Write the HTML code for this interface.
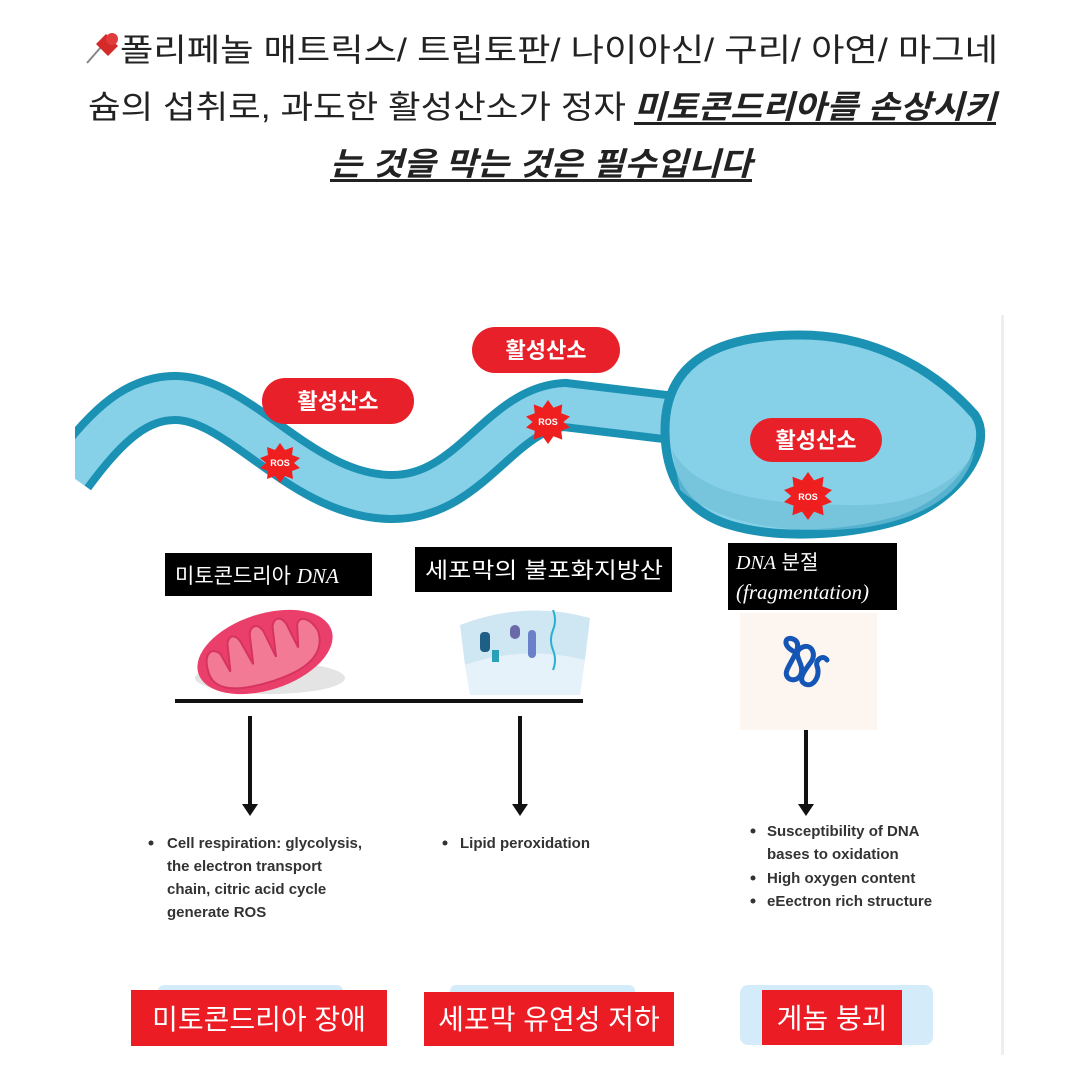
<!DOCTYPE html>
<html><head><meta charset="utf-8"><style>
html,body{margin:0;padding:0;background:#fff;}
svg{display:block;}
.k{font-family:"Liberation Sans","Noto Sans CJK KR",sans-serif;}
</style></head><body>
<svg width="1080" height="1080" viewBox="0 0 1080 1080" xmlns="http://www.w3.org/2000/svg">
<rect width="1080" height="1080" fill="#fff"/>
<!-- title -->
<g class="k" font-size="32" fill="#222">
  <text x="120" y="61" textLength="878" lengthAdjust="spacingAndGlyphs">폴리페놀 매트릭스/ 트립토판/ 나이아신/ 구리/ 아연/ 마그네</text>
  <text x="88" y="118" textLength="538" lengthAdjust="spacingAndGlyphs">슘의 섭취로, 과도한 활성산소가 정자</text>
  <text x="634" y="118" textLength="362" lengthAdjust="spacingAndGlyphs" font-weight="bold" font-style="italic">미토콘드리아를 손상시키</text>
  <text x="330" y="175" textLength="422" lengthAdjust="spacingAndGlyphs" font-weight="bold" font-style="italic">는 것을 막는 것은 필수입니다</text>
</g>
<rect x="634" y="122" width="362" height="3" fill="#222"/>
<rect x="330" y="179" width="422" height="3" fill="#222"/>
<!-- pin -->
<g transform="translate(84,30)">
  <line x1="3" y1="33" x2="17" y2="17" stroke="#888" stroke-width="2"/>
  <path d="M12,14 L22,4 L34,16 L24,26 Z" fill="#d42a2a"/>
  <circle cx="28" cy="9" r="6" fill="#e23b3b"/>
</g>
<!-- picture border -->
<rect x="1001" y="315" width="3" height="740" fill="#eee"/>
<!-- tail -->
<path d="M70,475 C110,420 140,398 175,398 C240,398 300,495 390,497 C470,499 500,408 565,405 L690,420" fill="none" stroke="#1b92b4" stroke-width="52"/>
<path d="M70,475 C110,420 140,398 175,398 C240,398 300,495 390,497 C470,499 500,408 565,405 L690,420" fill="none" stroke="#86d1e8" stroke-width="36"/>
<rect x="0" y="300" width="75" height="260" fill="#fff"/>
<!-- head -->
<path d="M665,430 C665,360 720,335 800,335 C880,335 940,375 975,415 C995,445 960,500 900,520 C850,535 780,540 730,525 C680,510 665,470 665,430 Z" fill="#86d1e8" stroke="#1b92b4" stroke-width="9"/>
<path d="M672,450 C700,500 780,505 860,505 C920,505 960,480 975,450 C965,495 920,520 860,528 C790,535 720,525 680,490 Z" fill="#6fc0d8" opacity="0.7"/>
<!-- labels -->
<g class="k" font-size="22" font-weight="bold" fill="#fff" text-anchor="middle">
  <rect x="262" y="378" width="152" height="46" rx="23" fill="#e8202a"/>
  <text x="338" y="409">활성산소</text>
  <rect x="472" y="327" width="148" height="46" rx="23" fill="#e8202a"/>
  <text x="546" y="358">활성산소</text>
  <rect x="750" y="418" width="132" height="44" rx="22" fill="#e8202a"/>
  <text x="816" y="448">활성산소</text>
</g>
<!-- ROS bursts -->
<g class="k" font-size="9" font-weight="bold" fill="#fff" text-anchor="middle">
  <polygon transform="translate(280,463)" fill="#f01f1f" points="0,-20 5,-13 13,-16 12,-8 20,-5 14,0 20,5 12,8 13,16 5,13 0,20 -5,13 -13,16 -12,8 -20,5 -14,0 -20,-5 -12,-8 -13,-16 -5,-13"/>
  <text x="280" y="466">ROS</text>
  <polygon transform="translate(548,422) scale(1.1)" fill="#f01f1f" points="0,-20 5,-13 13,-16 12,-8 20,-5 14,0 20,5 12,8 13,16 5,13 0,20 -5,13 -13,16 -12,8 -20,5 -14,0 -20,-5 -12,-8 -13,-16 -5,-13"/>
  <text x="548" y="425">ROS</text>
  <polygon transform="translate(808,496) scale(1.2)" fill="#f01f1f" points="0,-20 5,-13 13,-16 12,-8 20,-5 14,0 20,5 12,8 13,16 5,13 0,20 -5,13 -13,16 -12,8 -20,5 -14,0 -20,-5 -12,-8 -13,-16 -5,-13"/>
  <text x="808" y="500">ROS</text>
</g>
<!-- black labels -->
<rect x="165" y="553" width="207" height="43" fill="#000"/>
<text x="175" y="583" class="k" font-size="21" fill="#fff">미토콘드리아 <tspan font-family="Liberation Serif,serif" font-style="italic">DNA</tspan></text>
<rect x="415" y="547" width="257" height="45" fill="#000"/>
<text x="425" y="578" class="k" font-size="22" fill="#fff" textLength="238" lengthAdjust="spacingAndGlyphs">세포막의 불포화지방산</text>
<rect x="728" y="543" width="169" height="67" fill="#000"/>
<text x="736" y="569" class="k" font-size="20" fill="#fff"><tspan font-family="Liberation Serif,serif" font-style="italic">DNA</tspan> 분절</text>
<text x="736" y="599" font-family="Liberation Serif,serif" font-style="italic" font-size="21" fill="#fff">(fragmentation)</text>
<!-- mitochondria -->
<ellipse cx="270" cy="678" rx="75" ry="16" fill="#e4e4e4"/>
<g transform="rotate(-18 265 652)">
  <ellipse cx="265" cy="652" rx="70" ry="38" fill="#ea3f6a"/>
  <path d="M205,655 C205,635 215,630 222,640 L226,660 L232,632 C236,625 242,625 245,635 L250,660 L256,630 C260,622 267,622 270,632 L274,660 L280,630 C284,622 291,622 294,632 L298,658 L304,636 C308,628 318,632 322,648 C322,672 300,682 265,682 C230,682 205,675 205,655 Z" fill="#f27a95" stroke="#d63360" stroke-width="2"/>
</g>
<!-- membrane -->
<path d="M460,625 Q525,600 590,618 L585,660 Q525,645 465,665 Z" fill="#cfe6f3"/>
<path d="M465,665 Q525,645 585,660 L580,695 L470,695 Z" fill="#e6f2f9"/>
<rect x="480" y="632" width="10" height="20" rx="4" fill="#1f5f86"/>
<rect x="510" y="625" width="10" height="14" rx="5" fill="#6a6aa8"/>
<rect x="528" y="630" width="8" height="28" rx="4" fill="#6a80c8"/>
<rect x="492" y="650" width="7" height="12" fill="#2aa0b8"/>
<path d="M553,610 q4,10 0,20 q-4,10 0,20 q4,10 0,20" stroke="#28b0d0" stroke-width="2" fill="none"/>
<!-- DNA box -->
<rect x="740" y="613" width="137" height="117" fill="#fcf5f0"/>
<path d="M795,652 c-14,-6 -10,-18 0,-12 c8,6 -4,20 -8,30 c-4,10 10,14 14,4 c4,-10 -10,-20 0,-26 c10,-6 16,6 10,14 c-6,8 -14,18 -6,22 c8,4 16,-8 12,-18 c-2,-6 6,-12 10,-6" stroke="#1455b5" stroke-width="5" fill="none" stroke-linecap="round"/>
<!-- lines & arrows -->
<rect x="175" y="699" width="408" height="4" fill="#111"/>
<g fill="#111">
  <rect x="248" y="716" width="4" height="90"/>
  <polygon points="242,804 258,804 250,816"/>
  <rect x="518" y="716" width="4" height="90"/>
  <polygon points="512,804 528,804 520,816"/>
  <rect x="804" y="730" width="4" height="76"/>
  <polygon points="798,804 814,804 806,816"/>
</g>
<!-- bullets -->
<g class="k" font-size="15" font-weight="bold" fill="#333">
  <circle cx="151" cy="843" r="2.5"/>
  <text x="167" y="848">Cell respiration: glycolysis,</text>
  <text x="167" y="871">the electron transport</text>
  <text x="167" y="894">chain, citric acid cycle</text>
  <text x="167" y="917">generate ROS</text>
  <circle cx="445" cy="843" r="2.5"/>
  <text x="460" y="848">Lipid peroxidation</text>
  <circle cx="753" cy="831" r="2.5"/>
  <text x="767" y="836">Susceptibility of DNA</text>
  <text x="767" y="859">bases to oxidation</text>
  <circle cx="753" cy="878" r="2.5"/>
  <text x="767" y="883">High oxygen content</text>
  <circle cx="753" cy="901" r="2.5"/>
  <text x="767" y="906">eEectron rich structure</text>
</g>
<!-- bottom -->
<rect x="158" y="985" width="185" height="20" rx="6" fill="#d4ecfa"/>
<rect x="450" y="985" width="185" height="20" rx="6" fill="#d4ecfa"/>
<rect x="740" y="985" width="193" height="60" rx="8" fill="#d4ecfa"/>
<g class="k" font-size="28" fill="#fff" text-anchor="middle">
  <rect x="131" y="990" width="256" height="56" fill="#ec1c24"/>
  <text x="259" y="1029">미토콘드리아 장애</text>
  <rect x="424" y="992" width="250" height="54" fill="#ec1c24"/>
  <text x="549" y="1029">세포막 유연성 저하</text>
  <rect x="762" y="990" width="140" height="55" fill="#ec1c24"/>
  <text x="832" y="1028">게놈 붕괴</text>
</g>
</svg>
</body></html>
